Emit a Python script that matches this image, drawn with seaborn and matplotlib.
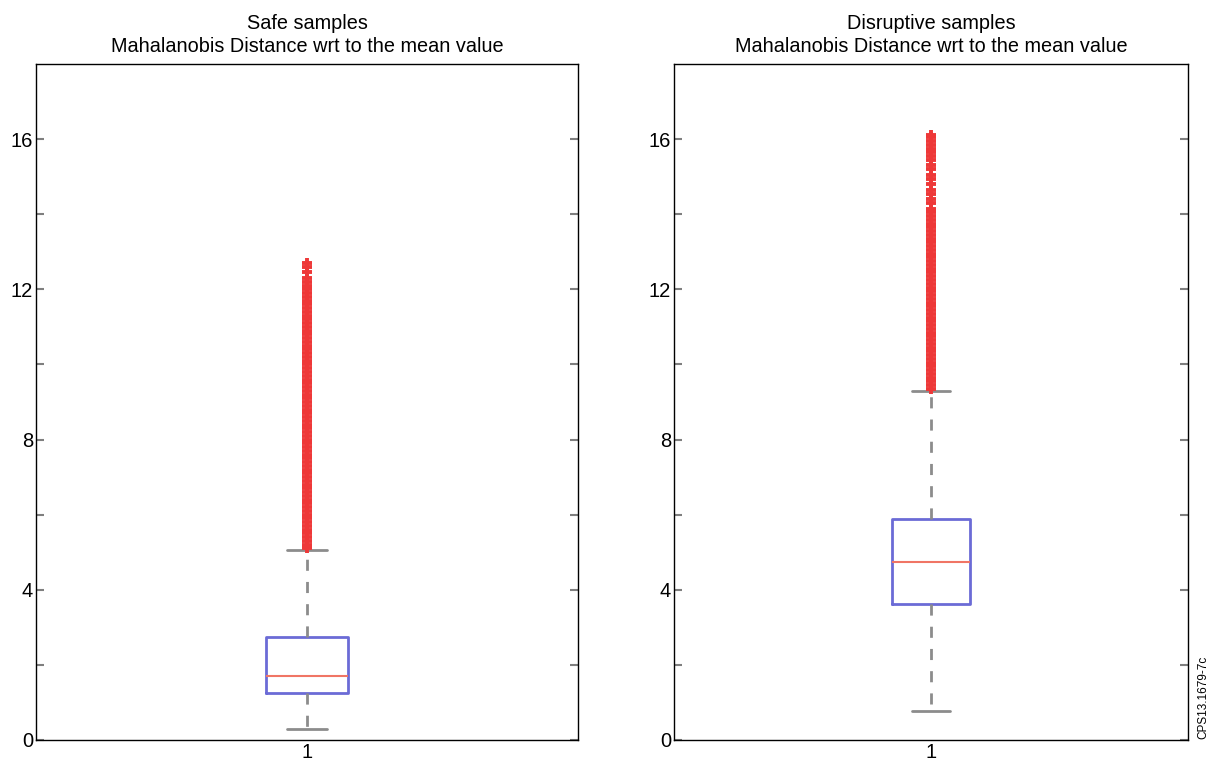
import matplotlib
matplotlib.use("Agg")
import matplotlib.pyplot as plt
import seaborn as sns

# box statistics
titles = ["Safe samples", "Disruptive samples"]
whisker_low = [0.30, 0.78]
q1 = [1.25, 3.62]
median = [1.71, 4.74]
q3 = [2.75, 5.88]
whisker_high = [5.06, 9.30]

fliers_safe = [
    5.10, 5.20, 5.30, 5.40, 5.50, 5.60, 5.70, 5.80, 5.90, 6.00,
    6.10, 6.20, 6.30, 6.40, 6.50, 6.60, 6.70, 6.80, 6.90, 7.00,
    7.10, 7.20, 7.30, 7.40, 7.50, 7.60, 7.70, 7.80, 7.90, 8.00,
    8.10, 8.20, 8.30, 8.40, 8.50, 8.60, 8.70, 8.80, 8.90, 9.00,
    9.10, 9.20, 9.30, 9.40, 9.50, 9.60, 9.70, 9.80, 9.90, 10.00,
    10.10, 10.20, 10.30, 10.40, 10.50, 10.60, 10.70, 10.80, 10.90, 11.00,
    11.10, 11.20, 11.30, 11.40, 11.50, 11.60, 11.70, 11.80, 11.90, 12.00,
    12.10, 12.20, 12.30, 12.45, 12.60, 12.70,
]
fliers_disruptive = [
    9.35, 9.45, 9.55, 9.65, 9.75, 9.85, 9.95, 10.05, 10.15, 10.25,
    10.35, 10.45, 10.55, 10.65, 10.75, 10.85, 10.95, 11.05, 11.15, 11.25,
    11.35, 11.45, 11.55, 11.65, 11.75, 11.85, 11.95, 12.05, 12.15, 12.25,
    12.35, 12.45, 12.55, 12.65, 12.75, 12.85, 12.95, 13.05, 13.15, 13.25,
    13.35, 13.45, 13.55, 13.65, 13.75, 13.85, 13.95, 14.05, 14.15, 14.30,
    14.40, 14.55, 14.65, 14.80, 14.95, 15.05, 15.20, 15.30, 15.45, 15.55,
    15.65, 15.75, 15.85, 15.95, 16.05, 16.10,
]
fliers = [fliers_safe, fliers_disruptive]

sns.set_style("ticks")
plt.rcParams["font.family"] = ["Liberation Sans", "DejaVu Sans"]
plt.rcParams["text.color"] = "black"
plt.rcParams["ytick.labelcolor"] = "black"
plt.rcParams["xtick.labelcolor"] = "black"

fig = plt.figure(figsize=(12.12, 7.62), dpi=100)
axes = [fig.add_axes([0.0297, 0.0289, 0.4472, 0.887]),
        fig.add_axes([0.5561, 0.0289, 0.4241, 0.887])]

for i, ax in enumerate(axes):
    stats = [{
        "whislo": whisker_low[i], "q1": q1[i], "med": median[i],
        "q3": q3[i], "whishi": whisker_high[i], "fliers": fliers[i],
        "label": "1",
    }]
    ax.bxp(stats, positions=[1], widths=0.15, showfliers=True,
           boxprops=dict(color="#6b6bd6", linewidth=2),
           medianprops=dict(color="#f07565", linewidth=1.5),
           whiskerprops=dict(color="#8c8c8c", linewidth=2, linestyle=(0, (4, 4))),
           capprops=dict(color="#8c8c8c", linewidth=2),
           flierprops=dict(marker="+", markeredgecolor="#ee3838",
                           markersize=7.5, markeredgewidth=2.8, linestyle="none"))
    ax.set_xlim(0.5, 1.5)
    ax.set_ylim(0, 18)
    ax.set_yticks([0, 4, 8, 12, 16])
    ax.set_yticks([2, 6, 10, 14], minor=True)
    ax.tick_params(axis="y", which="both", direction="in", left=True, right=True,
                   color="#7f7f7f", length=6, width=1.5, labelsize=14.5, pad=2)
    ax.tick_params(axis="x", length=0, labelsize=14.5, pad=2)
    for sp in ax.spines.values():
        sp.set_color("black")
        sp.set_linewidth(1)
    ax.set_title(titles[i] + "\nMahalanobis Distance wrt to the mean value",
                 fontsize=14.3, pad=9, linespacing=1.25)

fig.text(0.993, 0.03, "CPS13.1679-7c", rotation=90, fontsize=8.5,
         ha="center", va="bottom")

fig.savefig("out.png", dpi=100)
